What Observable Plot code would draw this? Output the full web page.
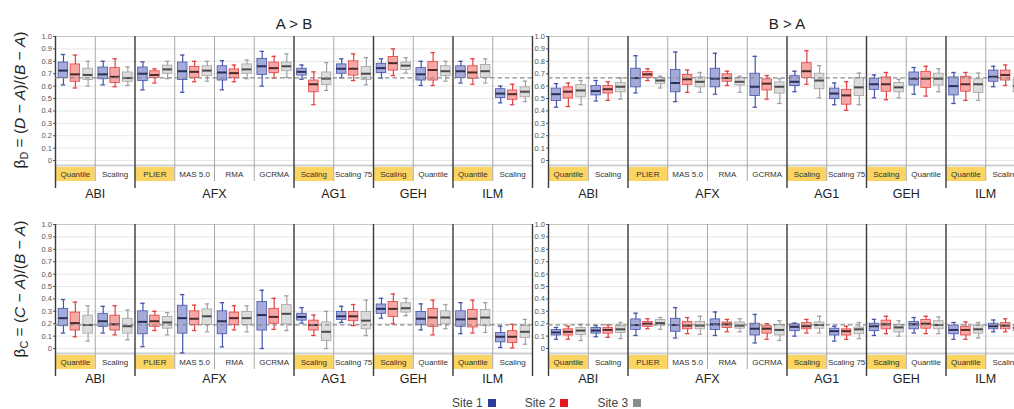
<!DOCTYPE html>
<html><head><meta charset="utf-8">
<script src="https://cdn.jsdelivr.net/npm/d3@7"></script>
<script src="https://cdn.jsdelivr.net/npm/@observablehq/plot@0.6"></script>
<style>
body{margin:0;background:#fff;overflow:hidden;}
#wrap{position:relative;width:1014px;height:409px;overflow:hidden;background:#fff;font-family:"Liberation Sans",Arial,Helvetica,sans-serif;color:#222;}
.panel{position:absolute;}
.panel svg{max-width:none !important;}
.coltitle{position:absolute;font-size:15px;line-height:15px;white-space:nowrap;transform:translateX(-50%);color:#222;}
.ytitle{position:absolute;font-size:15.5px;line-height:16px;white-space:nowrap;transform:translate(-50%,-50%) rotate(-90deg);color:#222;}
.ytitle sub{font-size:70%;vertical-align:-0.25em;}
#legend{position:absolute;left:452px;top:397px;display:flex;gap:29px;font-size:12px;line-height:12px;color:#444;}
#legend .sw{display:inline-block;width:8px;height:8px;margin-left:5px;vertical-align:0px;}
</style></head><body><div id="wrap"></div>
<script>
// ---------- categories ----------
const platforms = ["ABI", "AFX", "AG1", "GEH", "ILM"];
const methods = ["Quantile", "Scaling", "PLIER", "MAS 5.0", "RMA", "GCRMA", "Scaling", "Scaling 75", "Scaling", "Quantile", "Quantile", "Scaling"];
const groupPlatform = ["ABI", "ABI", "AFX", "AFX", "AFX", "AFX", "AG1", "AG1", "GEH", "GEH", "ILM", "ILM"];
const highlighted = [true, false, true, false, false, false, true, false, true, false, true, false];
const sites = ["Site 1", "Site 2", "Site 3"];
const columnTitles = ["A > B", "B > A"];
const yTicks = [0, 0.1, 0.2, 0.3, 0.4, 0.5, 0.6, 0.7, 0.8, 0.9, 1.0];
const refD = 0.667;   // dashed reference, beta_D panels
const refC = 0.19;    // dashed reference, beta_C panels

// ---------- values: [min, q1, median, q3, max] per method group ----------
// beta_D, A > B
const dAB_site1 = [[0.61,0.665,0.725,0.79,0.855],[0.61,0.655,0.695,0.75,0.80],[0.57,0.64,0.70,0.75,0.795],[0.55,0.65,0.72,0.79,0.85],[0.57,0.645,0.71,0.76,0.805],[0.60,0.69,0.76,0.82,0.88],[0.655,0.685,0.715,0.74,0.77],[0.667,0.70,0.74,0.775,0.82],[0.665,0.705,0.745,0.78,0.82],[0.605,0.645,0.695,0.745,0.80],[0.625,0.665,0.72,0.76,0.80],[0.465,0.505,0.54,0.575,0.60]];
const dAB_site2 = [[0.585,0.635,0.695,0.775,0.85],[0.595,0.625,0.675,0.745,0.82],[0.625,0.665,0.69,0.72,0.74],[0.635,0.665,0.715,0.755,0.80],[0.635,0.665,0.705,0.735,0.77],[0.665,0.705,0.745,0.79,0.84],[0.45,0.55,0.615,0.645,0.715],[0.645,0.685,0.74,0.80,0.86],[0.685,0.725,0.785,0.835,0.90],[0.605,0.645,0.73,0.795,0.87],[0.615,0.66,0.71,0.76,0.82],[0.45,0.49,0.535,0.565,0.615]];
const dAB_site3 = [[0.60,0.65,0.69,0.74,0.80],[0.605,0.635,0.665,0.71,0.755],[0.66,0.70,0.735,0.765,0.80],[0.64,0.68,0.725,0.76,0.80],[0.66,0.70,0.735,0.775,0.81],[0.67,0.72,0.76,0.79,0.86],[0.565,0.61,0.66,0.71,0.79],[0.61,0.65,0.70,0.755,0.83],[0.705,0.73,0.765,0.79,0.83],[0.64,0.68,0.72,0.76,0.80],[0.625,0.665,0.72,0.77,0.82],[0.475,0.51,0.555,0.59,0.64]];
// beta_D, B > A
const dBA_site1 = [[0.43,0.48,0.535,0.58,0.62],[0.48,0.525,0.56,0.60,0.645],[0.545,0.59,0.665,0.74,0.845],[0.475,0.55,0.625,0.73,0.875],[0.535,0.59,0.66,0.74,0.865],[0.43,0.52,0.595,0.70,0.84],[0.555,0.60,0.635,0.68,0.72],[0.45,0.495,0.54,0.58,0.625],[0.505,0.57,0.615,0.66,0.69],[0.535,0.605,0.66,0.71,0.75],[0.46,0.525,0.60,0.67,0.71],[0.595,0.635,0.675,0.725,0.76]];
const dBA_site2 = [[0.435,0.50,0.555,0.59,0.625],[0.485,0.54,0.575,0.60,0.635],[0.645,0.665,0.695,0.715,0.74],[0.55,0.61,0.655,0.69,0.73],[0.605,0.635,0.665,0.695,0.72],[0.495,0.565,0.62,0.655,0.685],[0.615,0.665,0.72,0.785,0.885],[0.405,0.45,0.525,0.57,0.635],[0.49,0.555,0.615,0.67,0.71],[0.52,0.585,0.66,0.715,0.76],[0.485,0.555,0.615,0.675,0.71],[0.605,0.645,0.69,0.725,0.77]];
const dBA_site3 = [[0.45,0.51,0.565,0.61,0.645],[0.495,0.55,0.595,0.625,0.665],[0.585,0.615,0.645,0.665,0.68],[0.55,0.59,0.635,0.67,0.71],[0.55,0.605,0.635,0.665,0.68],[0.46,0.54,0.595,0.63,0.66],[0.505,0.575,0.645,0.70,0.765],[0.45,0.52,0.59,0.665,0.705],[0.505,0.55,0.59,0.625,0.655],[0.555,0.605,0.66,0.70,0.74],[0.485,0.545,0.615,0.655,0.705],[0.50,0.55,0.60,0.65,0.70]];
// beta_C, A > B
const cAB_site1 = [[0.125,0.18,0.245,0.32,0.395],[0.125,0.175,0.22,0.28,0.34],[0.015,0.115,0.215,0.30,0.365],[-0.035,0.12,0.245,0.345,0.435],[0.013,0.115,0.22,0.30,0.37],[0.0,0.145,0.27,0.375,0.47],[0.205,0.225,0.255,0.28,0.33],[0.21,0.23,0.26,0.295,0.34],[0.245,0.28,0.32,0.355,0.405],[0.15,0.19,0.24,0.295,0.36],[0.12,0.175,0.235,0.30,0.37],[0.008,0.05,0.095,0.125,0.18]];
const cAB_site2 = [[0.095,0.145,0.205,0.29,0.375],[0.11,0.145,0.195,0.265,0.345],[0.145,0.175,0.22,0.265,0.30],[0.145,0.19,0.24,0.30,0.35],[0.15,0.19,0.245,0.29,0.345],[0.155,0.20,0.255,0.32,0.405],[0.105,0.145,0.19,0.225,0.27],[0.185,0.22,0.26,0.295,0.355],[0.20,0.255,0.32,0.375,0.44],[0.11,0.175,0.25,0.32,0.39],[0.125,0.17,0.24,0.31,0.39],[0.005,0.045,0.095,0.14,0.195]];
const cAB_site3 = [[0.06,0.12,0.19,0.265,0.345],[0.07,0.12,0.18,0.24,0.31],[0.11,0.16,0.21,0.255,0.29],[0.135,0.19,0.26,0.315,0.36],[0.135,0.19,0.245,0.295,0.345],[0.145,0.195,0.28,0.35,0.425],[0.0,0.06,0.135,0.21,0.30],[0.105,0.155,0.225,0.295,0.39],[0.265,0.29,0.325,0.365,0.405],[0.16,0.195,0.25,0.30,0.355],[0.13,0.18,0.25,0.31,0.37],[0.035,0.085,0.135,0.18,0.235]];
// beta_C, B > A
const cBA_site1 = [[0.075,0.105,0.13,0.15,0.17],[0.095,0.12,0.145,0.165,0.185],[0.105,0.15,0.19,0.235,0.285],[0.085,0.135,0.19,0.24,0.33],[0.105,0.15,0.195,0.235,0.295],[0.045,0.105,0.16,0.20,0.275],[0.10,0.14,0.175,0.195,0.205],[0.06,0.105,0.14,0.16,0.18],[0.105,0.14,0.18,0.20,0.235],[0.125,0.155,0.195,0.215,0.25],[0.075,0.115,0.15,0.185,0.21],[0.135,0.155,0.18,0.20,0.23]];
const cBA_site2 = [[0.075,0.105,0.135,0.155,0.18],[0.09,0.12,0.15,0.165,0.19],[0.16,0.175,0.20,0.215,0.24],[0.12,0.155,0.185,0.215,0.25],[0.135,0.165,0.195,0.21,0.235],[0.075,0.12,0.16,0.18,0.20],[0.125,0.155,0.18,0.205,0.235],[0.075,0.105,0.14,0.155,0.18],[0.12,0.155,0.195,0.225,0.26],[0.12,0.16,0.20,0.23,0.26],[0.075,0.105,0.15,0.175,0.215],[0.135,0.155,0.185,0.205,0.24]];
const cBA_site3 = [[0.065,0.11,0.145,0.165,0.195],[0.08,0.125,0.155,0.18,0.21],[0.155,0.185,0.205,0.23,0.25],[0.115,0.155,0.185,0.215,0.26],[0.135,0.16,0.185,0.21,0.24],[0.065,0.105,0.15,0.19,0.225],[0.125,0.16,0.19,0.21,0.26],[0.08,0.115,0.155,0.17,0.21],[0.10,0.13,0.17,0.19,0.225],[0.12,0.155,0.19,0.22,0.255],[0.085,0.12,0.155,0.185,0.21],[0.11,0.14,0.165,0.19,0.22]];

// ---------- styling ----------
const siteOffset = [0.2, 0.5, 0.82];
const halfBox = 0.12, halfCap = 0.055;
const siteStroke = ["#4454ac", "#e5403f", "#a2a2a2"];
const siteFill = ["#a5abd9", "#f6a8a6", "#dcdcdc"];
const siteMedian = ["#2b2f55", "#4a2a2a", "#4a4a4a"];
const legendColor = ["#2c3c9c", "#e3181d", "#8c8c8c"];
const yellow = "#fbd462";
const fontFamily = '"Liberation Sans", Arial, Helvetica, sans-serif';

const yMin = -0.04;
const pxUnit = 1 / 124;
const bandTop = yMin - 2 * pxUnit, bandBottom = yMin - 16 * pxUnit, platBottom = yMin - 23 * pxUnit;

function rowsOf(series, s) {
  return series.map((v, g) => ({g, s, x: g + siteOffset[s], min: v[0], q1: v[1], med: v[2], q3: v[3], max: v[4]}));
}

const groups = d3.range(methods.length);
const boundaries = d3.range(1, methods.length);
const thinBounds = boundaries.filter(i => groupPlatform[i] === groupPlatform[i - 1]);
const thickBounds = [0, ...boundaries.filter(i => groupPlatform[i] !== groupPlatform[i - 1]), methods.length];
const platformCenter = new Map(platforms.map(p => {
  const idx = groups.filter(i => groupPlatform[i] === p);
  return [(d3.min(idx) + d3.max(idx) + 1) / 2, p];
}));

function makePanel(seriesList, ref, marginLeft, platPad) {
  const marks = [
    Plot.ruleY(yTicks.filter(t => t < 1), {stroke: "#e7e7e7", strokeWidth: 1}),
    Plot.ruleY([1], {stroke: "#c6c6c6", strokeWidth: 1.2}),
    Plot.rect(groups.filter(i => highlighted[i]), {x1: d => d, x2: d => d + 1, y1: bandTop, y2: bandBottom, fill: yellow}),
    Plot.ruleY([yMin], {stroke: "#cfcfcf", strokeWidth: 2}),
    Plot.ruleX(thinBounds, {y1: 1, y2: bandBottom, stroke: "#a8a8a8", strokeWidth: 1}),
    Plot.ruleX(thickBounds, {y1: 1, y2: platBottom, stroke: "#3a3a3a", strokeWidth: 1.4})
  ];
  seriesList.forEach((series, s) => {
    const rows = rowsOf(series, s);
    marks.push(
      Plot.ruleX(rows, {x: "x", y1: "min", y2: "max", stroke: siteStroke[s], strokeWidth: 1.2}),
      Plot.ruleY(rows, {x1: d => d.x - halfCap, x2: d => d.x + halfCap, y: "max", stroke: siteStroke[s], strokeWidth: 1.3}),
      Plot.ruleY(rows, {x1: d => d.x - halfCap, x2: d => d.x + halfCap, y: "min", stroke: siteStroke[s], strokeWidth: 1.3}),
      Plot.rect(rows, {x1: d => d.x - halfBox, x2: d => d.x + halfBox, y1: "q1", y2: "q3", fill: siteFill[s], stroke: siteStroke[s], strokeWidth: 0.8}),
      Plot.ruleY(rows, {x1: d => d.x - halfBox, x2: d => d.x + halfBox, y: "med", stroke: siteMedian[s], strokeWidth: 2})
    );
  });
  marks.push(
    Plot.ruleY([ref], {stroke: "#8a8a8a", strokeWidth: 1.3, strokeDasharray: "4.5,3"}),
    Plot.axisY(yTicks, {anchor: "left", label: null, tickSize: 2, tickPadding: 1.5, fontSize: 7.5, color: "#555",
      tickFormat: d => d === 0 ? "0" : d.toFixed(1)}),
    Plot.axisX(groups.map(i => i + 0.5), {anchor: "bottom", label: null, tickSize: 0, tickPadding: 6, fontSize: 8, color: "#333",
      tickFormat: d => methods[Math.floor(d)]}),
    Plot.axisX([...platformCenter.keys()], {anchor: "bottom", label: null, tickSize: 0, tickPadding: platPad, fontSize: 12.5, color: "#222",
      tickFormat: d => platformCenter.get(d)})
  );
  return Plot.plot({
    width: marginLeft + 477 + 14,
    height: 200,
    marginLeft, marginRight: 14, marginTop: 36, marginBottom: 35,
    x: {domain: [0, methods.length], axis: null},
    y: {domain: [yMin, 1], axis: null},
    style: {background: "transparent", overflow: "visible", fontFamily, maxWidth: "none"},
    marks
  });
}

const wrap = document.getElementById("wrap");
function place(el, left, top) {
  const d = document.createElement("div");
  d.className = "panel";
  d.style.left = left + "px"; d.style.top = top + "px";
  d.style.width = el.getAttribute("width") + "px";
  d.appendChild(el);
  wrap.appendChild(d);
}
place(makePanel([dAB_site1, dAB_site2, dAB_site3], refD, 55, 23.5), 0, 0);
place(makePanel([dBA_site1, dBA_site2, dBA_site3], refD, 48, 23.5), 500, 0);
place(makePanel([cAB_site1, cAB_site2, cAB_site3], refC, 55, 20.5), 0, 188);
place(makePanel([cBA_site1, cBA_site2, cBA_site3], refC, 48, 20.5), 500, 188);

// column titles
[[294, columnTitles[0]], [787, columnTitles[1]]].forEach(([cx, t]) => {
  const d = document.createElement("div");
  d.className = "coltitle"; d.textContent = t;
  d.style.left = cx + "px"; d.style.top = "15.5px";
  wrap.appendChild(d);
});
// y titles
[[100, "D"], [289, "C"]].forEach(([cy, L]) => {
  const d = document.createElement("div");
  d.className = "ytitle";
  d.innerHTML = `β<sub>${L}</sub> = (<i>${L}</i> − <i>A</i>)/(<i>B</i> − <i>A</i>)`;
  d.style.left = "22px"; d.style.top = cy + "px";
  wrap.appendChild(d);
});
// legend
const lg = document.createElement("div");
lg.id = "legend";
lg.innerHTML = sites.map((s, i) => `<span>${s}<span class="sw" style="background:${legendColor[i]}"></span></span>`).join("");
wrap.appendChild(lg);
</script>
</body></html>
